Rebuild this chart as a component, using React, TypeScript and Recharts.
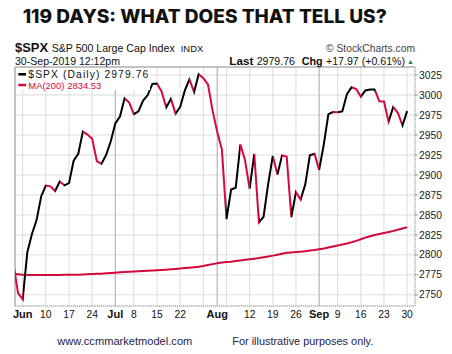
import React from 'react';
import { LineChart, Line, XAxis, YAxis, CartesianGrid, ReferenceLine } from 'recharts';

const dates = [
  'May 30', 'May 31',
  'Jun 3', 'Jun 4', 'Jun 5', 'Jun 6', 'Jun 7', 'Jun 10', 'Jun 11', 'Jun 12', 'Jun 13', 'Jun 14',
  'Jun 17', 'Jun 18', 'Jun 19', 'Jun 20', 'Jun 21', 'Jun 24', 'Jun 25', 'Jun 26', 'Jun 27', 'Jun 28',
  'Jul 1', 'Jul 2', 'Jul 3', 'Jul 5', 'Jul 8', 'Jul 9', 'Jul 10', 'Jul 11', 'Jul 12', 'Jul 15',
  'Jul 16', 'Jul 17', 'Jul 18', 'Jul 19', 'Jul 22', 'Jul 23', 'Jul 24', 'Jul 25', 'Jul 26', 'Jul 29',
  'Jul 30', 'Jul 31',
  'Aug 1', 'Aug 2', 'Aug 5', 'Aug 6', 'Aug 7', 'Aug 8', 'Aug 9', 'Aug 12', 'Aug 13', 'Aug 14',
  'Aug 15', 'Aug 16', 'Aug 19', 'Aug 20', 'Aug 21', 'Aug 22', 'Aug 23', 'Aug 26', 'Aug 27', 'Aug 28',
  'Aug 29', 'Aug 30',
  'Sep 3', 'Sep 4', 'Sep 5', 'Sep 6', 'Sep 9', 'Sep 10', 'Sep 11', 'Sep 12', 'Sep 13', 'Sep 16',
  'Sep 17', 'Sep 18', 'Sep 19', 'Sep 20', 'Sep 23', 'Sep 24', 'Sep 25', 'Sep 26', 'Sep 27', 'Sep 30',
];

const spx = [
  2788.86, 2752.06,
  2744.45, 2803.27, 2826.15, 2843.49, 2873.34, 2886.73, 2885.72, 2879.84, 2891.64, 2886.98,
  2889.67, 2917.75, 2926.46, 2954.18, 2950.46, 2945.35, 2917.38, 2913.78, 2924.92, 2941.76,
  2964.33, 2973.01, 2995.82, 2990.41, 2975.95, 2979.63, 2993.07, 2999.91, 3013.77, 3014.30,
  3004.04, 2984.42, 2995.11, 2976.61, 2985.03, 3005.47, 3019.56, 3003.67, 3025.86, 3020.97,
  3013.18, 2980.38,
  2953.56, 2932.05, 2844.74, 2881.77, 2883.98, 2938.09, 2918.65, 2882.70, 2926.32, 2840.60,
  2847.60, 2888.68, 2923.65, 2900.51, 2924.43, 2922.95, 2847.11, 2878.38, 2869.16, 2887.94,
  2924.58, 2926.46,
  2906.27, 2937.78, 2976.00, 2978.71, 2978.43, 2979.39, 3000.93, 3009.57, 3007.39, 2997.96,
  3005.70, 3006.73, 3006.79, 2992.07, 2991.78, 2966.60, 2984.87, 2977.62, 2961.79, 2979.76,
];

const ma200 = [
  2776.3, 2775.6,
  2775.0, 2774.8, 2774.7, 2774.7, 2774.7, 2774.8, 2774.8, 2774.9, 2774.9, 2775.0,
  2775.0, 2775.1, 2775.2, 2775.4, 2775.6, 2775.9, 2776.2, 2776.5, 2776.9, 2777.3,
  2777.7, 2778.1, 2778.5, 2778.9, 2779.3, 2779.6, 2779.9, 2780.2, 2780.5, 2780.8,
  2781.1, 2781.5, 2781.9, 2782.4, 2782.9, 2783.4, 2783.9, 2784.4, 2785.0, 2786.0,
  2787.2, 2788.4,
  2789.6, 2790.4, 2791.0, 2791.5, 2792.2, 2793.0, 2793.8, 2794.5, 2795.2, 2796.0,
  2797.0, 2798.0, 2799.0, 2800.2, 2801.4, 2802.5, 2803.0, 2803.5, 2804.0, 2804.6,
  2805.3, 2806.0,
  2807.0, 2808.0, 2809.2, 2810.5, 2811.8, 2813.0, 2814.3, 2815.8, 2817.5, 2819.5,
  2821.5, 2823.2, 2824.8, 2826.0, 2827.2, 2828.5, 2829.8, 2831.5, 2833.0, 2834.53,
];

const weekTicks = [2, 7, 12, 17, 22, 26, 31, 36, 41, 44, 46, 51, 56, 61, 66, 70, 75, 80, 85];
const tickLabels = ['Jun', '10', '17', '24', 'Jul', '8', '15', '22', '', 'Aug', '', '12', '19', '26', 'Sep', '9', '16', '23', '30'];
const monthTicks = [2, 22, 44, 66];
const monthLines = [22, 44, 66];
const yTicks = [2750, 2775, 2800, 2825, 2850, 2875, 2900, 2925, 2950, 2975, 3000, 3025];

const X_DOMAIN: [number, number] = [0.34, 86.7];
const Y_DOMAIN: [number, number] = [2736, 3035];

const RED = '#d2093c';
const BLACK = '#000000';
const FONT = '"Liberation Sans", Arial, sans-serif';

const data = spx.map((v, i) => ({ i, date: dates[i], spx: v, ma: ma200[i] }));

const stops: { offset: number; color: string }[] = [];
for (let i = 0; i < spx.length - 1; i++) {
  const c = spx[i + 1] >= spx[i] ? BLACK : RED;
  stops.push({ offset: i / (spx.length - 1), color: c });
  stops.push({ offset: (i + 1) / (spx.length - 1), color: c });
}

const XTick = (props: any) => {
  const { x, y, payload } = props;
  const idx = weekTicks.indexOf(payload.value);
  const label = idx >= 0 ? tickLabels[idx] : '';
  const bold = monthTicks.includes(payload.value);
  return (
    <text
      x={x}
      y={y + 12}
      textAnchor="middle"
      fontFamily={FONT}
      fontSize={bold ? 11 : 10.3}
      fontWeight={bold ? 700 : 400}
      fill="#111"
    >
      {label}
    </text>
  );
};

export default function App() {
  return (
    <div style={{ position: 'absolute', left: 0, top: 0, width: 452, height: 354, background: '#fff' }}>
      <LineChart
        width={452}
        height={354}
        data={data}
        margin={{ top: 67, right: 0, left: 15, bottom: 28 }}
      >
        <defs>
          <linearGradient id="dirGrad" x1="0" y1="0" x2="1" y2="0">
            {stops.map((s, k) => (
              <stop key={k} offset={s.offset} stopColor={s.color} />
            ))}
          </linearGradient>
        </defs>
        <CartesianGrid stroke="#dcdcdc" strokeWidth={1} />
        <XAxis
          dataKey="i"
          type="number"
          domain={X_DOMAIN}
          allowDataOverflow
          ticks={weekTicks}
          interval={0}
          tick={<XTick />}
          tickLine={false}
          tickSize={0}
          tickMargin={0}
          height={20}
          axisLine={{ stroke: '#9a9a9a', strokeDasharray: '1 1' }}
        />
        <YAxis
          orientation="right"
          width={37}
          domain={Y_DOMAIN}
          allowDataOverflow
          ticks={yTicks}
          interval={0}
          tickSize={3}
          tickMargin={1}
          tickLine={{ stroke: '#9a9a9a' }}
          axisLine={{ stroke: '#9a9a9a', strokeDasharray: '1 1' }}
          tick={{ fontFamily: FONT, fontSize: 10.3, fill: '#222' }}
        />
        {monthLines.map((m) => (
          <ReferenceLine key={m} x={m} stroke="#b4b4b4" strokeWidth={1} ifOverflow="visible" />
        ))}
        <ReferenceLine x={X_DOMAIN[0]} stroke="#9a9a9a" ifOverflow="visible" />
        <ReferenceLine y={Y_DOMAIN[1]} stroke="#9a9a9a" ifOverflow="visible" />
        <Line
          type="linear"
          dataKey="ma"
          stroke={RED}
          strokeWidth={2}
          dot={false}
          activeDot={false}
          isAnimationActive={false}
        />
        <Line
          type="linear"
          dataKey="spx"
          stroke="url(#dirGrad)"
          strokeWidth={2}
          dot={false}
          activeDot={false}
          isAnimationActive={false}
        />
      </LineChart>
      <svg
        width={452}
        height={354}
        style={{ position: 'absolute', left: 0, top: 0, pointerEvents: 'none' }}
      >
        <text x={22.7} y={23.3} fontFamily="Inter, 'Open Sans', sans-serif" fontWeight={800} fontSize={18.5} fill="#111" textLength={364} lengthAdjust="spacingAndGlyphs">
          119 DAYS: WHAT DOES THAT TELL US?
        </text>
        <text x={15} y={52.3} fontFamily={FONT} fontWeight={700} fontSize={13} fill="#111" textLength={33} lengthAdjust="spacingAndGlyphs">$SPX</text>
        <text x={51.7} y={51.7} fontFamily={FONT} fontSize={10.6} fill="#111" textLength={123} lengthAdjust="spacingAndGlyphs">S&amp;P 500 Large Cap Index</text>
        <text x={180.7} y={51.7} fontFamily={FONT} fontSize={9.5} fill="#111" textLength={22.6} lengthAdjust="spacingAndGlyphs">INDX</text>
        <text x={326} y={51.7} fontFamily={FONT} fontSize={10.7} fill="#444" textLength={89} lengthAdjust="spacingAndGlyphs">© StockCharts.com</text>
        <text x={15} y={64.8} fontFamily={FONT} fontSize={10.5} fill="#111" textLength={105} lengthAdjust="spacingAndGlyphs">30-Sep-2019 12:12pm</text>
        <text x={229.3} y={64.8} fontFamily={FONT} fontWeight={700} fontSize={11} fill="#111" textLength={24} lengthAdjust="spacingAndGlyphs">Last</text>
        <text x={256.7} y={64.8} fontFamily={FONT} fontSize={10.5} fill="#111" textLength={38.3} lengthAdjust="spacingAndGlyphs">2979.76</text>
        <text x={301.7} y={64.8} fontFamily={FONT} fontWeight={700} fontSize={11} fill="#111" textLength={21} lengthAdjust="spacingAndGlyphs">Chg</text>
        <text x={326} y={64.8} fontFamily={FONT} fontSize={10.5} fill="#111" textLength={79} lengthAdjust="spacingAndGlyphs">+17.97 (+0.61%)</text>
        <text x={407} y={63.5} fontFamily={FONT} fontSize={7} fill="#2e7d32">▲</text>

        <rect x={16} y={68} width={134} height={22} fill="#fff" />
        <line x1={18.3} y1={74.3} x2={26} y2={74.3} stroke={BLACK} strokeWidth={2.5} />
        <text x={28.3} y={78} fontFamily={FONT} fontSize={10.3} fill="#111" textLength={120} lengthAdjust="spacing">$SPX (Daily) 2979.76</text>
        <line x1={18.3} y1={85} x2={26} y2={85} stroke={RED} strokeWidth={2.5} />
        <text x={28.3} y={88.5} fontFamily={FONT} fontSize={9.6} fill={RED} textLength={73} lengthAdjust="spacingAndGlyphs">MA(200) 2834.53</text>

        <text x={57.3} y={345.3} fontFamily={FONT} fontSize={11} fill="#1f2347" textLength={135} lengthAdjust="spacingAndGlyphs">www.ccmmarketmodel.com</text>
        <text x={232.3} y={345.3} fontFamily={FONT} fontSize={11} fill="#1f2347" textLength={141} lengthAdjust="spacingAndGlyphs">For illustrative purposes only.</text>
      </svg>
    </div>
  );
}
